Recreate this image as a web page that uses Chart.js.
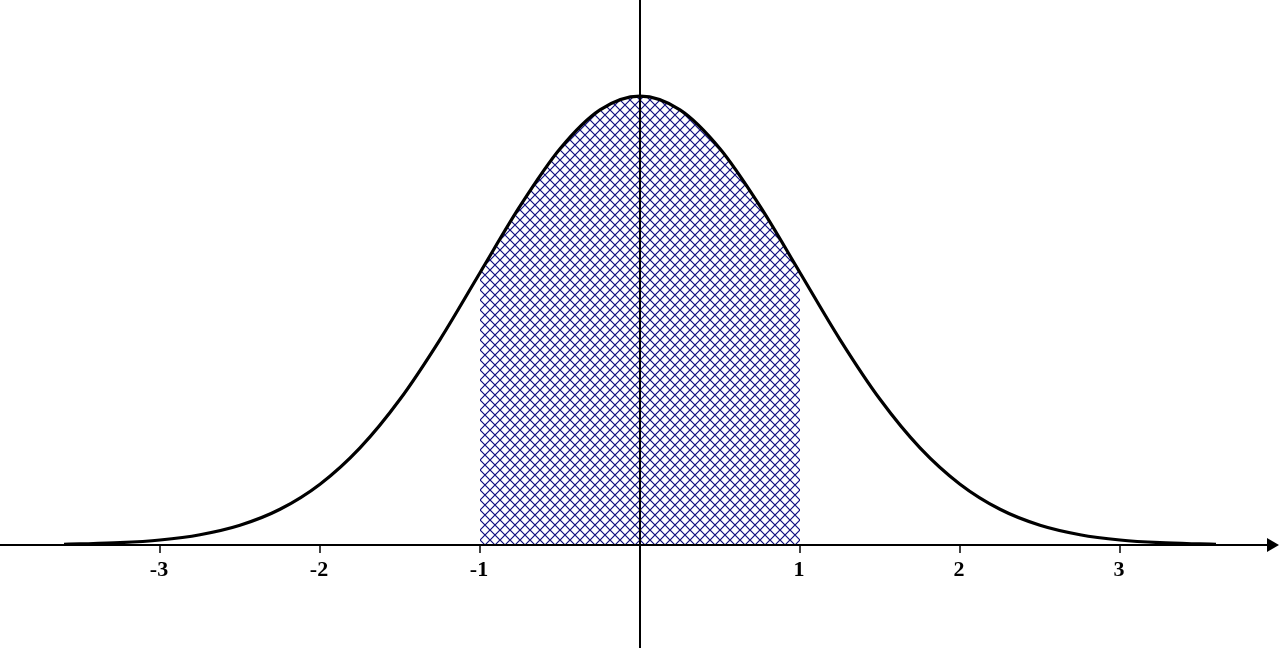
<!DOCTYPE html>
<html>
<head>
<meta charset="utf-8">
<script src="https://cdn.jsdelivr.net/npm/chart.js@4"></script>
<style>
  html, body { margin: 0; padding: 0; background: #fff; }
  #wrap { width: 1280px; height: 648px; }
</style>
</head>
<body>
<div id="wrap"><canvas id="c" width="1280" height="648"></canvas></div>
<script>
// Curve (x in standard deviations, y = density)
const curveX = [-3.6, -3.5, -3.25, -3.0, -2.75, -2.5, -2.25, -2.0, -1.75, -1.5, -1.25, -1.0, -0.75, -0.5, -0.25, 0,
                0.25, 0.5, 0.75, 1.0, 1.25, 1.5, 1.75, 2.0, 2.25, 2.5, 2.75, 3.0, 3.25, 3.5, 3.6];
const curveY = [0.0006, 0.0009, 0.0020, 0.0044, 0.0091, 0.0175, 0.0317, 0.0540, 0.0863, 0.1295, 0.1826, 0.2420, 0.3011, 0.3521, 0.3867, 0.3989,
                0.3867, 0.3521, 0.3011, 0.2420, 0.1826, 0.1295, 0.0863, 0.0540, 0.0317, 0.0175, 0.0091, 0.0044, 0.0020, 0.0009, 0.0006];
// Shaded region between -1 and 1
const shadeX = [-1.0, -0.75, -0.5, -0.25, 0, 0.25, 0.5, 0.75, 1.0];
const shadeY = [0.2420, 0.3011, 0.3521, 0.3867, 0.3989, 0.3867, 0.3521, 0.3011, 0.2420];
// Tick labels
const tickValues = [-3, -2, -1, 1, 2, 3];
const tickLabels = ['-3', '-2', '-1', '1', '2', '3'];

function toPoints(xs, ys) { return xs.map((x, i) => ({ x: x, y: ys[i] })); }

function makeHatch() {
  const s = 10;
  const p = document.createElement('canvas');
  p.width = s; p.height = s;
  const g = p.getContext('2d');
  g.strokeStyle = '#10107f';
  g.lineWidth = 1.2;
  g.beginPath();
  g.moveTo(-1, -1); g.lineTo(s + 1, s + 1);
  g.moveTo(s + 1, -1); g.lineTo(-1, s + 1);
  g.stroke();
  return document.getElementById('c').getContext('2d').createPattern(p, 'repeat');
}

const axesPlugin = {
  id: 'axesPlugin',
  afterDatasetsDraw(chart) {
    const ctx = chart.ctx;
    const xs = chart.scales.x, ys = chart.scales.y;
    const y0 = ys.getPixelForValue(0);
    const x0 = xs.getPixelForValue(0);
    const right = chart.width;
    ctx.save();
    ctx.strokeStyle = '#000';
    ctx.fillStyle = '#000';
    ctx.lineWidth = 2;
    // x axis
    ctx.beginPath();
    ctx.moveTo(0, y0); ctx.lineTo(right - 8, y0);
    ctx.stroke();
    // arrow head
    ctx.beginPath();
    ctx.moveTo(right - 1, y0);
    ctx.lineTo(right - 13, y0 - 7);
    ctx.lineTo(right - 13, y0 + 7);
    ctx.closePath();
    ctx.fill();
    // y axis
    ctx.beginPath();
    ctx.moveTo(x0, 0); ctx.lineTo(x0, chart.height);
    ctx.stroke();
    // ticks + labels
    ctx.lineWidth = 1.5;
    ctx.font = 'bold 22px "Liberation Serif", "DejaVu Serif", serif';
    ctx.textAlign = 'center';
    ctx.textBaseline = 'middle';
    tickValues.forEach((v, i) => {
      const px = xs.getPixelForValue(v);
      ctx.beginPath();
      ctx.moveTo(px, y0); ctx.lineTo(px, y0 + 8);
      ctx.stroke();
      ctx.fillText(tickLabels[i], px - 1, y0 + 25);
    });
    ctx.restore();
  }
};

new Chart(document.getElementById('c'), {
  type: 'scatter',
  data: {
    datasets: [
      {
        data: toPoints(curveX, curveY),
        showLine: true,
        borderColor: '#000',
        borderWidth: 3.2,
        pointRadius: 0,
        cubicInterpolationMode: 'monotone',
        fill: false,
        order: 0
      },
      {
        data: toPoints(shadeX, shadeY),
        showLine: true,
        borderWidth: 0,
        borderColor: 'rgba(0,0,0,0)',
        backgroundColor: makeHatch(),
        pointRadius: 0,
        cubicInterpolationMode: 'monotone',
        fill: 'origin',
        order: 1
      }
    ]
  },
  options: {
    responsive: false,
    animation: false,
    events: [],
    layout: { padding: 0 },
    plugins: { legend: { display: false }, tooltip: { enabled: false } },
    scales: {
      x: { type: 'linear', min: -4, max: 4, display: false },
      y: { type: 'linear', min: -0.0916, max: 0.4844, display: false }
    }
  },
  plugins: [axesPlugin]
});
</script>
</body>
</html>
